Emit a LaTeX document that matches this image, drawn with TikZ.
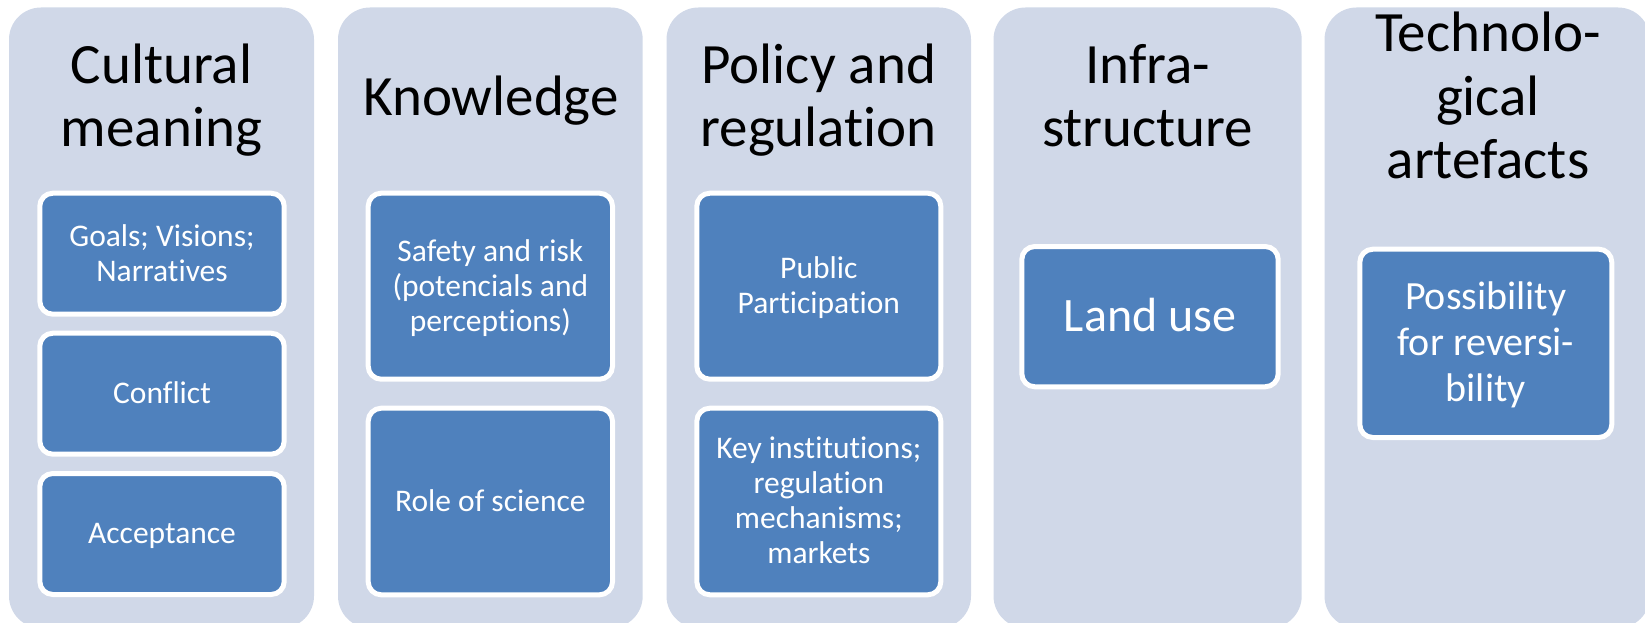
\documentclass[tikz,border=0pt]{standalone}
\usepackage{fontspec}
\setmainfont{Carlito}[Ligatures=NoCommon]
\definecolor{colfill}{HTML}{D0D8E8}
\definecolor{boxfill}{HTML}{4F81BD}
% line strut: keeps every line the same height so the cap block stays centred
\newcommand\ls{\rule[-0.229em]{0pt}{1.09em}}

\begin{document}
\begin{tikzpicture}[x=1pt,y=-1pt,
  column/.style={fill=colfill, draw=none, rounded corners=32pt, inner sep=0pt, minimum height=620.5pt},
  head/.style={align=center, inner sep=0pt, text=black, font=\fontsize{57}{63.5}\selectfont},
  item/.style={draw=white, line width=5pt, fill=boxfill, rounded corners=13pt, text=white,
               align=center, inner sep=0pt, font=\fontsize{31.5}{35}\selectfont},
]
\useasboundingbox (0,0) rectangle (1645,623);
\clip (0,0) rectangle (1645,623);

% background columns
\node[column, minimum width=305pt]   (c1) at (161.5,317.75)  {};
\node[column, minimum width=304.7pt] (c2) at (490.35,317.75) {};
\node[column, minimum width=304.5pt] (c3) at (818.75,317.75) {};
\node[column, minimum width=308.2pt] (c4) at (1147.6,317.75) {};
\node[column, minimum width=325.5pt] (c5) at (1487.25,317.75) {};

% column headings
\node[head] (h1) at (161.5,97)  {\ls Cultural\\\ls meaning};
\node[head] (h2) at (491,97)    {\ls Knowledge};
\node[head] (h3) at (818.75,97) {\ls Policy and\\\ls regulation};
\node[head] (h4) at (1147.6,97) {\ls Infra-\\\ls structure};
\node[head] (h5) at (1488,97)   {\ls Technolo-\\\ls gical\\\ls artefacts};

% Cultural meaning
\node[item, minimum width=244.4pt, minimum height=121pt] (b11) at (162,253.7) {\ls Goals; Visions;\\\ls Narratives};
\node[item, minimum width=244.4pt, minimum height=121pt] (b12) at (162,393.7) {\ls Conflict};
\node[item, minimum width=244.4pt, minimum height=121pt] (b13) at (162,534)   {\ls Acceptance};

% Knowledge
\node[item, minimum width=244.3pt, minimum height=186pt] (b21) at (490.35,286.2) {\ls Safety and risk\\\ls (potencials and\\\ls perceptions)};
\node[item, minimum width=244.3pt, minimum height=186.6pt] (b22) at (490.35,501.5) {\ls Role of science};

% Policy and regulation
\node[item, minimum width=244pt, minimum height=186pt] (b31) at (818.8,286.2) {\ls Public\\\ls Participation};
\node[item, minimum width=244pt, minimum height=186.6pt] (b32) at (818.8,501.5) {\ls Key institutions;\\\ls regulation\\\ls mechanisms;\\\ls markets};

% Infrastructure
\node[item, minimum width=256.4pt, minimum height=140.3pt, font=\fontsize{48}{54}\selectfont] (b41) at (1150,316.65) {\ls Land use};

% Technological artefacts
\node[item, minimum width=252pt, minimum height=188.3pt, font=\fontsize{40}{46}\selectfont] (b51) at (1485.8,343.35) {\ls Possibility\\\ls for reversi-\\\ls bility};
\end{tikzpicture}
\end{document}
